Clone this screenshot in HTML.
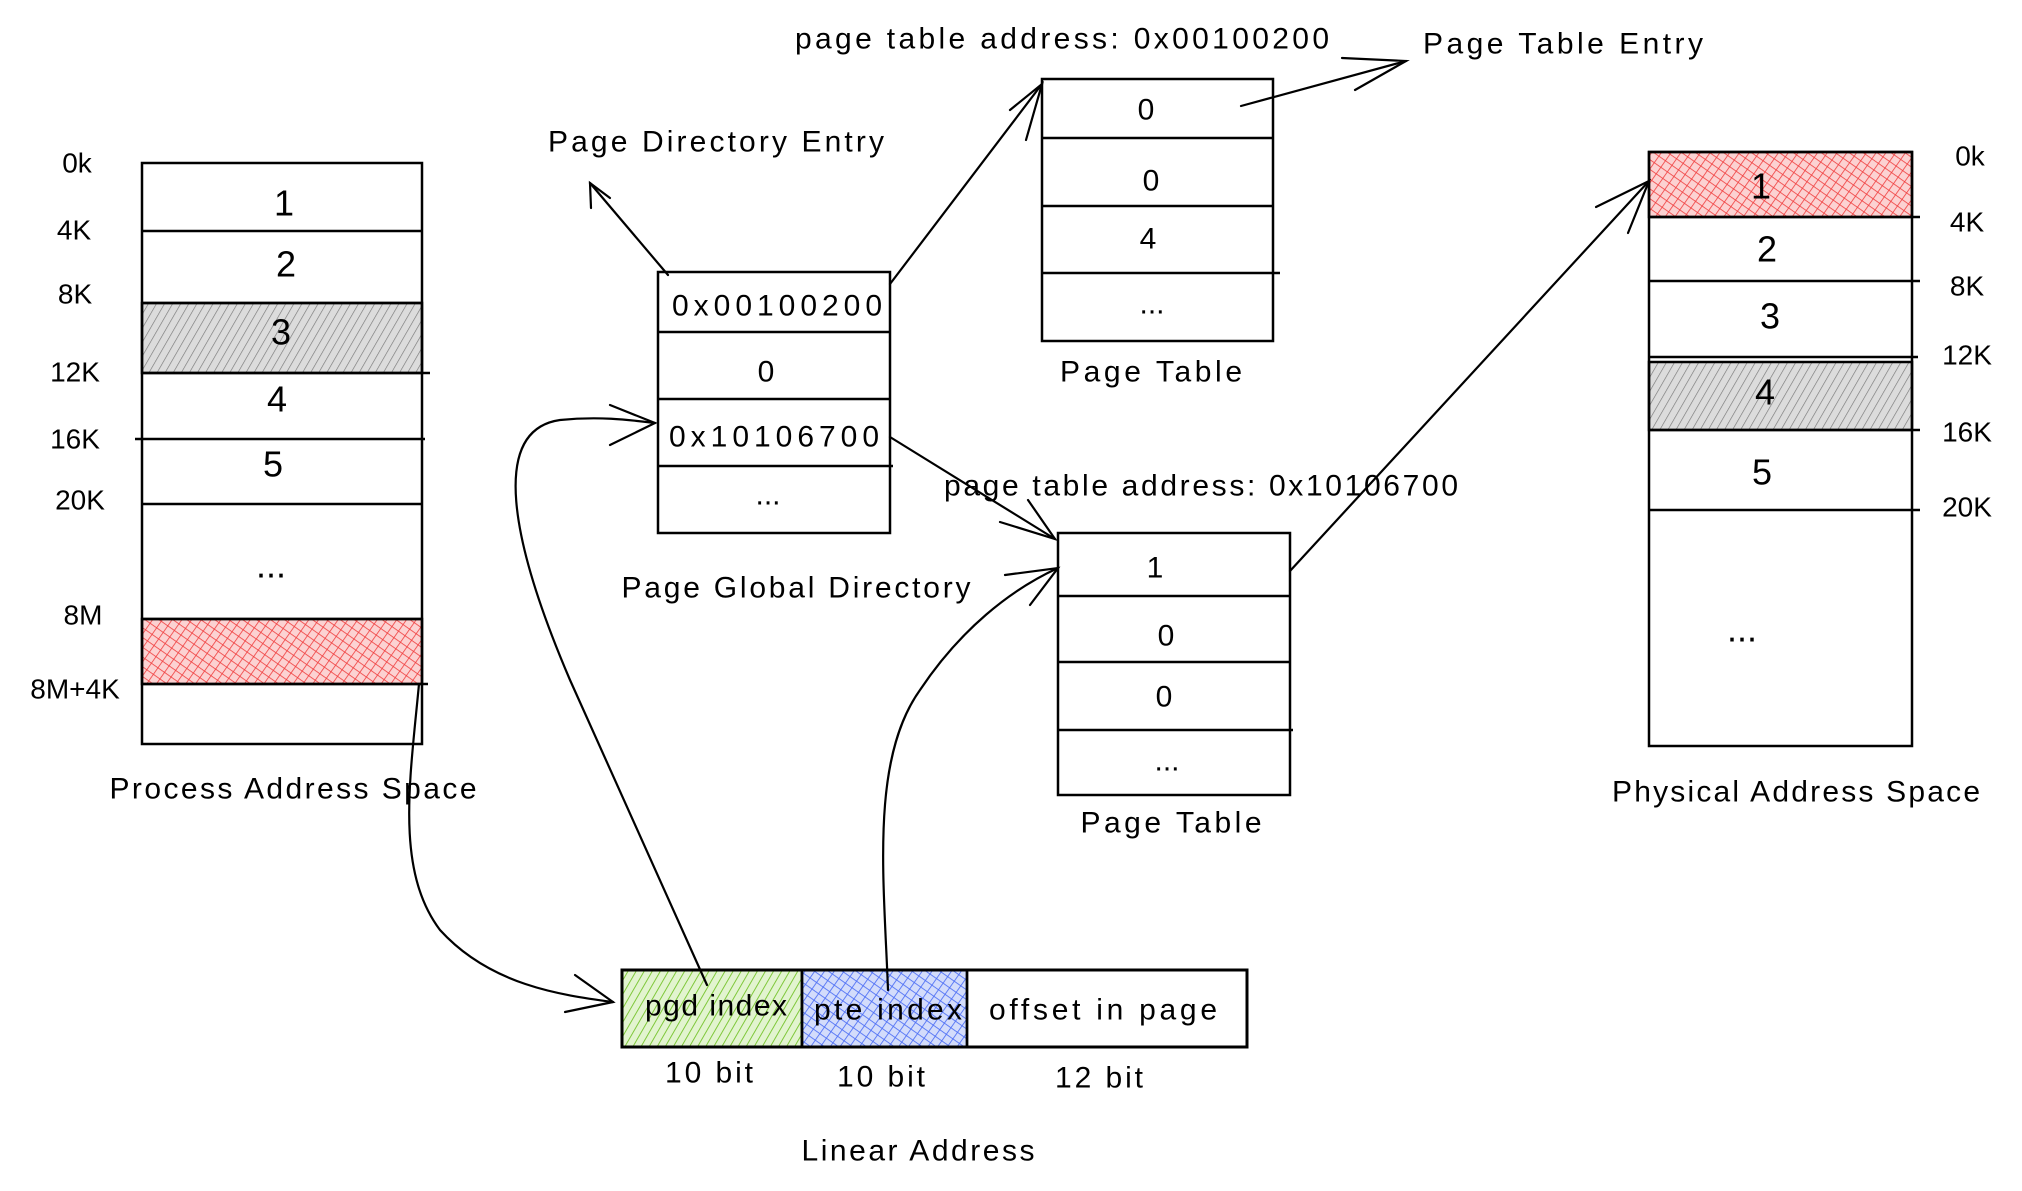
<!DOCTYPE html>
<html><head><meta charset="utf-8"><style>
html,body{margin:0;padding:0;background:#fff;}
svg{display:block;}
text{font-family:"Liberation Sans","DejaVu Sans",sans-serif;fill:#000;dominant-baseline:central;text-anchor:middle;}
.t{font-size:30px;}
.n{font-size:36px;}
.l{font-size:28px;}
</style></head><body>
<svg width="2022" height="1191" viewBox="0 0 2022 1191" xmlns="http://www.w3.org/2000/svg">
<defs>
<pattern id="gray" patternUnits="userSpaceOnUse" width="7" height="7" patternTransform="rotate(30)">
<rect width="7" height="7" fill="#dcdcdc"/><line x1="0" y1="0" x2="0" y2="7" stroke="#777" stroke-width="1.3"/></pattern>
<pattern id="red" patternUnits="userSpaceOnUse" width="8" height="8" patternTransform="rotate(35)">
<rect width="8" height="8" fill="#fcd2d2"/><line x1="0" y1="0" x2="0" y2="8" stroke="#f03e3e" stroke-width="1.6"/><line x1="0" y1="0" x2="8" y2="0" stroke="#f03e3e" stroke-width="1.6"/></pattern>
<pattern id="green" patternUnits="userSpaceOnUse" width="7" height="7" patternTransform="rotate(30)">
<rect width="7" height="7" fill="#e2f4cf"/><line x1="0" y1="0" x2="0" y2="7" stroke="#74c32a" stroke-width="1.8"/></pattern>
<pattern id="blue" patternUnits="userSpaceOnUse" width="8" height="8" patternTransform="rotate(35)">
<rect width="8" height="8" fill="#d3dcfb"/><line x1="0" y1="0" x2="0" y2="8" stroke="#4c6ef5" stroke-width="1.7"/><line x1="0" y1="0" x2="8" y2="0" stroke="#4c6ef5" stroke-width="1.7"/></pattern>
</defs>
<g fill="none" stroke="#000" stroke-width="2.5">
<rect x="142" y="303" width="280" height="70" fill="url(#gray)"/>
<rect x="142" y="619" width="280" height="65" fill="url(#red)"/>
<rect x="142" y="163" width="280" height="581"/>
<line x1="142" y1="231" x2="422" y2="231"/>
<line x1="142" y1="303" x2="422" y2="303"/>
<line x1="142" y1="373" x2="430" y2="373"/>
<line x1="135" y1="439" x2="425" y2="439"/>
<line x1="142" y1="504" x2="422" y2="504"/>
<line x1="142" y1="619" x2="422" y2="619"/>
<line x1="142" y1="684" x2="428" y2="684"/>
<rect x="658" y="272" width="232" height="261"/>
<line x1="658" y1="332" x2="890" y2="332"/>
<line x1="658" y1="399" x2="890" y2="399"/>
<line x1="658" y1="466" x2="893" y2="466"/>
<rect x="1042" y="79" width="231" height="262"/>
<line x1="1042" y1="138" x2="1273" y2="138"/>
<line x1="1042" y1="206" x2="1273" y2="206"/>
<line x1="1042" y1="273" x2="1280" y2="273"/>
<rect x="1058" y="533" width="232" height="262"/>
<line x1="1058" y1="596" x2="1290" y2="596"/>
<line x1="1058" y1="662" x2="1290" y2="662"/>
<line x1="1058" y1="730" x2="1293" y2="730"/>
<rect x="1649" y="152" width="263" height="65" fill="url(#red)"/>
<rect x="1649" y="362" width="263" height="68" fill="url(#gray)"/>
<rect x="1649" y="152" width="263" height="594"/>
<line x1="1649" y1="217" x2="1920" y2="217"/>
<line x1="1649" y1="281" x2="1920" y2="281"/>
<line x1="1649" y1="357" x2="1918" y2="357"/>
<line x1="1649" y1="430" x2="1920" y2="430"/>
<line x1="1649" y1="510" x2="1920" y2="510"/>
<rect x="622" y="970" width="180" height="77" fill="url(#green)"/>
<rect x="802" y="970" width="165" height="77" fill="url(#blue)"/>
<rect x="622" y="970" width="625" height="77" stroke-width="3"/>
<line x1="802" y1="970" x2="802" y2="1047"/>
<line x1="967" y1="970" x2="967" y2="1047"/>
</g>
<g fill="none" stroke="#000" stroke-width="2.2" stroke-linecap="round">
<line x1="668" y1="275" x2="590" y2="183"/>
<polyline points="591,208 590,183 610,198"/>
<line x1="1241" y1="106" x2="1406" y2="61"/>
<polyline points="1342,58 1406,61 1355,90"/>
<line x1="890" y1="284" x2="1042" y2="84"/>
<polyline points="1010,110 1042,84 1026,140"/>
<line x1="890" y1="437" x2="1055" y2="539"/>
<polyline points="1000,522 1055,539 1028,500"/>
<line x1="1290" y1="571" x2="1649" y2="181"/>
<polyline points="1596,207 1649,181 1628,233"/>
<path d="M888,990 C884,880 870,760 920,690 C960,630 1010,590 1058,568"/>
<polyline points="1005,575 1058,568 1030,605"/>
<path d="M707,985 L570,680 C510,540 490,430 560,420 C600,416 630,420 655,423"/>
<polyline points="610,405 655,423 610,445"/>
<path d="M419,684 C410,780 395,870 440,930 C490,985 560,995 613,1002"/>
<polyline points="575,975 613,1002 565,1012"/>
</g>
<g>
<text class="l" x="77" y="163">0k</text>
<text class="l" x="74" y="230">4K</text>
<text class="l" x="75" y="294">8K</text>
<text class="l" x="75" y="372">12K</text>
<text class="l" x="75" y="439">16K</text>
<text class="l" x="80" y="500">20K</text>
<text class="l" x="83" y="615">8M</text>
<text class="l" x="75" y="689">8M+4K</text>
<text class="n" x="284" y="203">1</text>
<text class="n" x="286" y="264">2</text>
<text class="n" x="281" y="332">3</text>
<text class="n" x="277" y="399">4</text>
<text class="n" x="273" y="464">5</text>
<text class="n" x="271" y="565">...</text>
<text class="t" x="293" y="789" textLength="367">Process Address Space</text>
<text class="t" x="777" y="306" textLength="210">0x00100200</text>
<text class="t" x="766" y="372">0</text>
<text class="t" x="774" y="437" textLength="210">0x10106700</text>
<text class="t" x="768" y="495">...</text>
<text class="t" x="796" y="588" textLength="349">Page Global Directory</text>
<text class="t" x="716" y="142" textLength="336">Page Directory Entry</text>
<text class="t" x="1146" y="110">0</text>
<text class="t" x="1151" y="181">0</text>
<text class="t" x="1148" y="239">4</text>
<text class="t" x="1152" y="304">...</text>
<text class="t" x="1151" y="372" textLength="182">Page Table</text>
<text class="t" x="1062" y="39" textLength="534">page table address: 0x00100200</text>
<text class="t" x="1563" y="44" textLength="280">Page Table Entry</text>
<text class="t" x="1155" y="568">1</text>
<text class="t" x="1166" y="636">0</text>
<text class="t" x="1164" y="697">0</text>
<text class="t" x="1167" y="761">...</text>
<text class="t" x="1171" y="823" textLength="181">Page Table</text>
<text class="t" x="1201" y="486" textLength="514">page table address: 0x10106700</text>
<text class="l" x="1970" y="156">0k</text>
<text class="l" x="1967" y="222">4K</text>
<text class="l" x="1967" y="286">8K</text>
<text class="l" x="1967" y="355">12K</text>
<text class="l" x="1967" y="432">16K</text>
<text class="l" x="1967" y="507">20K</text>
<text class="n" x="1761" y="186">1</text>
<text class="n" x="1767" y="249">2</text>
<text class="n" x="1770" y="316">3</text>
<text class="n" x="1765" y="392">4</text>
<text class="n" x="1762" y="472">5</text>
<text class="n" x="1742" y="629">...</text>
<text class="t" x="1796" y="792" textLength="368">Physical Address Space</text>
<text class="t" x="716" y="1006" textLength="142">pgd index</text>
<text class="t" x="888" y="1010" textLength="148">pte index</text>
<text class="t" x="1103" y="1010" textLength="228">offset in page</text>
<text class="t" x="709" y="1073" textLength="88">10 bit</text>
<text class="t" x="881" y="1077" textLength="88">10 bit</text>
<text class="t" x="1099" y="1078" textLength="88">12 bit</text>
<text class="t" x="918" y="1151" textLength="233">Linear Address</text>
</g>
</svg>
</body></html>
